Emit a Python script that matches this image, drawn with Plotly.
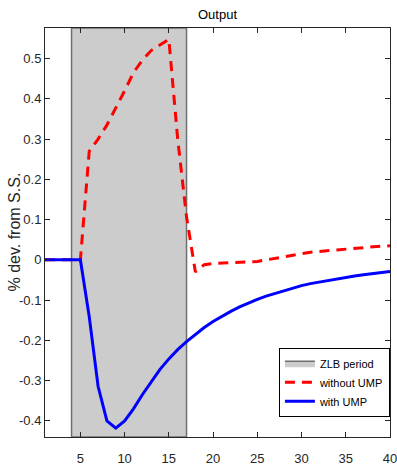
import plotly.graph_objects as go

t = list(range(1, 41))
without_ump = [0, 0, 0, 0, 0, 0.27, 0.30, 0.335, 0.377, 0.42, 0.465, 0.496, 0.52, 0.535, 0.548,
               0.30, 0.107, -0.03, -0.012, -0.009, -0.008, -0.008, -0.007, -0.006, -0.004,
               0.0, 0.004, 0.008, 0.012, 0.016, 0.019, 0.021, 0.023, 0.025, 0.027,
               0.029, 0.031, 0.032, 0.034, 0.035]
with_ump = [0, 0, 0, 0, 0, -0.141, -0.314, -0.40, -0.418, -0.40, -0.37, -0.335, -0.302, -0.272,
            -0.246, -0.223, -0.203, -0.185, -0.168, -0.153, -0.140, -0.128, -0.117, -0.107,
            -0.098, -0.090, -0.083, -0.076, -0.070, -0.064, -0.059, -0.055, -0.051, -0.047,
            -0.043, -0.040, -0.037, -0.034, -0.031, -0.029]
zlb_start, zlb_end = 4, 17
x_ticks = [5, 10, 15, 20, 25, 30, 35, 40]
y_ticks = [-0.4, -0.3, -0.2, -0.1, 0, 0.1, 0.2, 0.3, 0.4, 0.5]
y_tick_text = ["-0.4", "-0.3", "-0.2", "-0.1", "0", "0.1", "0.2", "0.3", "0.4", "0.5"]
y_title = "% dev. from S.S."

y_range = [-0.44, 0.576]
x_range = [1, 40]

FONT = "Liberation Sans, Arial, sans-serif"
tick_font = dict(family=FONT, size=13, color="#262626")

fig = go.Figure()
fig.add_trace(go.Scatter(
    x=[zlb_start, zlb_end, zlb_end, zlb_start, zlb_start],
    y=[y_range[0], y_range[0], y_range[1], y_range[1], y_range[0]],
    fill="toself", fillcolor="#cccccc", mode="lines",
    line=dict(color="#6e6e6e", width=1.5), name="ZLB period", hoverinfo="skip"))
fig.add_trace(go.Scatter(x=t, y=without_ump, mode="lines", name="without UMP",
                         line=dict(color="#ff0000", width=3, dash="10px,7px")))
fig.add_trace(go.Scatter(x=t, y=with_ump, mode="lines", name="with UMP",
                         line=dict(color="#0000ff", width=3)))

fig.add_annotation(text=y_title, xref="paper", yref="paper", x=0, y=0.5,
                   xanchor="center", yanchor="middle", xshift=-31, textangle=-90,
                   showarrow=False, font=dict(family=FONT, size=16, color="#262626"))

fig.update_layout(
    width=397, height=465,
    margin=dict(l=45, r=7, t=28, b=28, autoexpand=False),
    paper_bgcolor="white", plot_bgcolor="white",
    title=dict(text="Output", x=(45 + 390) / 2 / 397, xanchor="center", y=1 - 14 / 465,
               yanchor="middle", font=dict(family=FONT, size=13, color="#000000")),
    showlegend=True,
    legend=dict(x=0.678, y=0.218, xanchor="left", yanchor="top",
                bgcolor="white", bordercolor="#000000", borderwidth=1,
                font=dict(family=FONT, size=11, color="#000000"),
                tracegroupgap=0, itemwidth=30),
    xaxis=dict(range=x_range, tickvals=x_ticks, ticks="inside", ticklen=5, tickcolor="#262626",
               showline=True, linecolor="#262626", linewidth=1, mirror="ticks",
               showgrid=False, zeroline=False, tickfont=tick_font, automargin=False,
               ticklabelstandoff=9, ticklabeloverflow="allow"),
    yaxis=dict(range=y_range, tickvals=y_ticks, ticktext=y_tick_text, ticks="inside", ticklen=5,
               tickcolor="#262626", showline=True, linecolor="#262626", linewidth=1, mirror="ticks",
               showgrid=False, zeroline=False, tickfont=tick_font, automargin=False,
               ticklabeloverflow="allow"),
)
fig.write_html("out.html", config={"displayModeBar": False},
               post_script="document.body.style.margin='0';document.body.style.overflow='hidden';")
